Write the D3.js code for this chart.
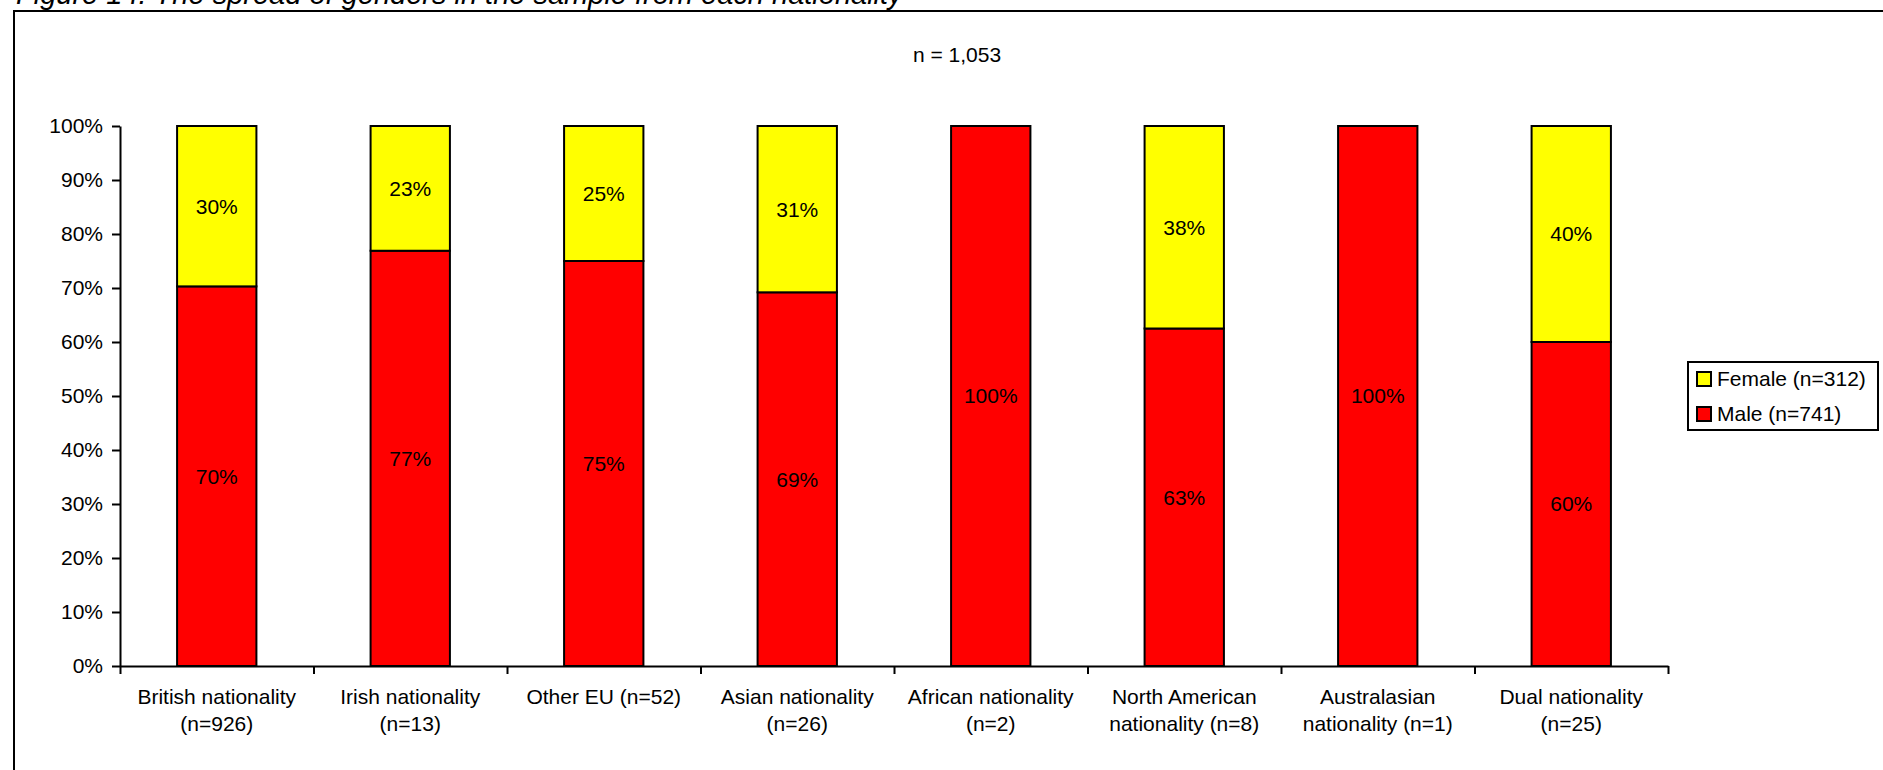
<!DOCTYPE html>
<html>
<head>
<meta charset="utf-8">
<script src="https://cdn.jsdelivr.net/npm/d3@7"></script>
<style>
  html, body { margin: 0; padding: 0; background: #fff; overflow: hidden; }
  svg { display: block; font-family: "Liberation Sans", Arial, sans-serif; }
</style>
</head>
<body>
<div id="viz"></div>
<script>
const width = 1883;
const height = 770;
const margin = {top: 126, right: 215, bottom: 104, left: 120};

// Data
const categories = [
  ['British nationality', '(n=926)'],
  ['Irish nationality', '(n=13)'],
  ['Other EU (n=52)'],
  ['Asian nationality', '(n=26)'],
  ['African nationality', '(n=2)'],
  ['North American', 'nationality (n=8)'],
  ['Australasian', 'nationality (n=1)'],
  ['Dual nationality', '(n=25)']
];
const malePct = [70.3, 76.9, 75.0, 69.2, 100, 62.5, 100, 60.0];
const femalePct = [29.7, 23.1, 25.0, 30.8, 0, 37.5, 0, 40.0];
const yTicks = [0, 10, 20, 30, 40, 50, 60, 70, 80, 90, 100];
const groups = [
  { key: 'male', label: 'Male (n=741)', color: '#FF0000' },
  { key: 'female', label: 'Female (n=312)', color: '#FFFF00' }
];

const dataFormatted = categories.map((c, i) => ({
  id: i,
  lines: c,
  male: malePct[i],
  female: femalePct[i]
}));

const svg = d3.select('#viz')
  .append('svg')
    .attr('viewBox', [0, 0, width, height])
    .attr('width', width)
    .attr('height', height);

// Page title (partly cut at the top) and frame
svg.append('text')
    .attr('x', 16)
    .attr('y', 4)
    .style('font-size', '29px')
    .style('font-style', 'italic')
    .text('Figure 14: The spread of genders in the sample from each nationality');

svg.append('rect')
    .attr('x', 14)
    .attr('y', 11)
    .attr('width', width + 20)
    .attr('height', height + 20)
    .attr('fill', 'none')
    .attr('stroke', '#000')
    .attr('stroke-width', 2);

svg.append('text')
    .attr('x', 957)
    .attr('y', 62)
    .attr('text-anchor', 'middle')
    .style('font-size', '21px')
    .text('n = 1,053');

// Scales
const scaleX = d3.scaleBand()
  .domain(dataFormatted.map(d => d.id))
  .range([margin.left, width - margin.right])
  .paddingInner(0.59)
  .paddingOuter(0.295);

const scaleEdge = d3.scaleLinear()
  .domain([0, categories.length])
  .range([margin.left, width - margin.right]);

const scaleY = d3.scaleLinear()
  .domain([0, 100])
  .range([height - margin.bottom, margin.top]);

const scaleColor = d3.scaleOrdinal()
  .domain(groups.map(g => g.key))
  .range(groups.map(g => g.color));

// Stack
const series = d3.stack()
  .keys(['male', 'female'])(dataFormatted);

const layers = svg.append('g')
  .selectAll('g')
  .data(series)
  .join('g')
    .attr('fill', d => scaleColor(d.key));

layers.selectAll('rect')
  .data(d => d.filter(p => p[1] - p[0] > 0))
  .join('rect')
    .attr('x', d => scaleX(d.data.id))
    .attr('y', d => scaleY(d[1]))
    .attr('width', scaleX.bandwidth())
    .attr('height', d => scaleY(d[0]) - scaleY(d[1]))
    .attr('stroke', '#000')
    .attr('stroke-width', 2);

// Value labels
layers.selectAll('text')
  .data(d => d.filter(p => p[1] - p[0] > 0))
  .join('text')
    .attr('x', d => scaleX(d.data.id) + scaleX.bandwidth() / 2)
    .attr('y', d => scaleY((d[0] + d[1]) / 2))
    .attr('dy', '0.35em')
    .attr('text-anchor', 'middle')
    .attr('fill', '#000')
    .style('font-size', '21px')
    .text(d => Math.round(d[1] - d[0]) + '%');

// Y axis
const axisLeft = d3.axisLeft(scaleY)
  .tickValues(yTicks)
  .tickFormat(d => d + '%')
  .tickSize(8)
  .tickPadding(9)
  .tickSizeOuter(0);
const yAxis = svg.append('g')
    .attr('transform', `translate(${margin.left},0)`)
    .call(axisLeft);
yAxis.selectAll('text').style('font-size', '21px').attr('fill', '#000');

// X axis: ticks on the band edges
const axisBottom = d3.axisBottom(scaleEdge)
  .ticks(categories.length)
  .tickFormat('')
  .tickSize(8)
  .tickSizeOuter(0);
svg.append('g')
    .attr('transform', `translate(0,${height - margin.bottom})`)
    .call(axisBottom);

svg.selectAll('.domain, .tick line')
    .attr('stroke', '#000')
    .attr('stroke-width', 2);

// X labels
const xLabels = svg.append('g')
  .selectAll('text')
  .data(dataFormatted)
  .join('text')
    .attr('text-anchor', 'middle')
    .attr('x', d => scaleX(d.id) + scaleX.bandwidth() / 2)
    .attr('y', height - margin.bottom + 38)
    .style('font-size', '21px');
xLabels.selectAll('tspan')
  .data(d => d.lines)
  .join('tspan')
    .attr('x', function() { return this.parentNode.getAttribute('x'); })
    .attr('dy', (d, i) => i === 0 ? 0 : 27)
    .text(d => d);

// Legend
const legend = svg.append('g')
    .attr('transform', 'translate(1688,362)');
legend.append('rect')
    .attr('width', 190)
    .attr('height', 68)
    .attr('fill', '#fff')
    .attr('stroke', '#000')
    .attr('stroke-width', 2);
const legendItems = legend.selectAll('g')
  .data(groups.slice().reverse())
  .join('g')
    .attr('transform', (d, i) => `translate(9,${10 + i * 35})`);
legendItems.append('rect')
    .attr('width', 14)
    .attr('height', 14)
    .attr('fill', d => d.color)
    .attr('stroke', '#000')
    .attr('stroke-width', 2);
legendItems.append('text')
    .attr('x', 20)
    .attr('y', 14)
    .style('font-size', '21px')
    .text(d => d.label);
</script>
</body>
</html>
